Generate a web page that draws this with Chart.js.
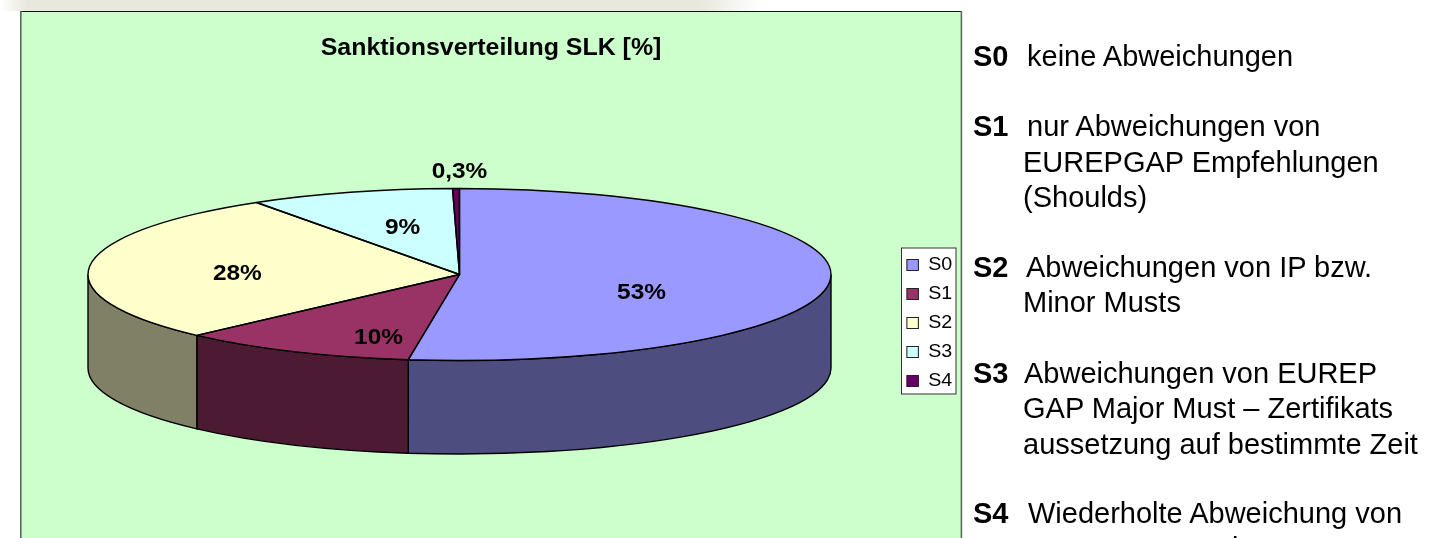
<!DOCTYPE html>
<html lang="de">
<head>
<meta charset="utf-8">
<title>Sanktionsverteilung SLK</title>
<script src="https://cdn.jsdelivr.net/npm/chart.js@4"></script>
<style>
  html, body { margin: 0; padding: 0; background: #fff; width: 1429px; height: 538px; overflow: hidden; }
  #c { position: absolute; left: 0; top: 0; display: block; }
  .note { position: absolute; white-space: pre; font: 29px/30px "Liberation Sans", Arial, sans-serif; color: #000; }
  .note b { font-weight: bold; }
</style>
</head>
<body>
<canvas id="c" width="1429" height="538"></canvas>
<script>
// ---- data ----
const categories = ['S0', 'S1', 'S2', 'S3', 'S4'];
const values = [52.2, 10.3, 28.3, 8.9, 0.3];
const valueLabels = ['53%', '10%', '28%', '9%', '0,3%'];
const sliceColors = ['#9999FF', '#993366', '#FFFFCC', '#CCFFFF', '#660066'];
const chartTitle = 'Sanktionsverteilung SLK [%]';
const noteKeys = ['S0', 'S1', '', '', 'S2', '', 'S3', '', '', 'S4', ''];
const noteTexts = [
  'keine Abweichungen',
  'nur Abweichungen von',
  'EUREPGAP Empfehlungen',
  '(Shoulds)',
  'Abweichungen von IP bzw.',
  'Minor Musts',
  'Abweichungen von EUREP',
  'GAP Major Must – Zertifikats',
  'aussetzung auf bestimmte Zeit',
  'Wiederholte Abweichung von',
  'EUREPGAP Major Musts'
];

// ---- layout and style ----
const notePos = [[1027,66],[1027,136],[1023,172],[1023,207],[1026,277],[1023,312],[1024,383],[1023,418],[1023,454],[1028,523],[1023,558]];
const STRETCH = 1.07;                      // the source picture is slightly wider than tall
const PIE = { cx: 459.5, cy: 274.5, rx: 371.5, ry: 86, depth: 93.5 };
const FRAME = { l: 20, t: 11, r: 962, b: 538 };
const LEGEND_BOX = { x: 901.5, y: 248, w: 54.5, h: 146 };
const labelAnchor = [[.49,.215],[-.218,.74],[-.598,-.005],[-.153,-.54],[0,-1.19]];

function darken(hex) {
  const n = parseInt(hex.slice(1), 16);
  const f = v => Math.round(v * 0.5);
  return `rgb(${f(n >> 16 & 255)},${f(n >> 8 & 255)},${f(n & 255)})`;
}

const pie3d = {
  id: 'pie3d',
  beforeDraw(chart) {
    const ctx = chart.ctx;
    // faded banner at the top of the slide
    const g = ctx.createLinearGradient(0, 0, 760, 0);
    g.addColorStop(0, '#ffffff'); g.addColorStop(0.035, '#E8E8DE');
    g.addColorStop(0.92, '#E8E8DE'); g.addColorStop(1, '#ffffff');
    ctx.fillStyle = g; ctx.fillRect(0, 0, 760, FRAME.t);
    // plot frame
    ctx.fillStyle = '#CCFFCC';
    ctx.fillRect(FRAME.l, FRAME.t, FRAME.r - FRAME.l, FRAME.b - FRAME.t);
    ctx.fillStyle = '#111'; ctx.fillRect(FRAME.l, FRAME.t, FRAME.r - FRAME.l, 1);
    ctx.fillStyle = '#5d6b5d';
    ctx.fillRect(FRAME.l, FRAME.t, 1.6, FRAME.b - FRAME.t);
    ctx.fillRect(FRAME.r - 1.4, FRAME.t, 1.6, FRAME.b - FRAME.t);
    // legend box
    ctx.fillStyle = '#fff'; ctx.fillRect(LEGEND_BOX.x, LEGEND_BOX.y, LEGEND_BOX.w, LEGEND_BOX.h);
    ctx.strokeStyle = '#333'; ctx.lineWidth = 1;
    ctx.strokeRect(LEGEND_BOX.x, LEGEND_BOX.y, LEGEND_BOX.w, LEGEND_BOX.h);
    // title and legend layers are drawn stretched, like the source image
    ctx.save();
    ctx.scale(STRETCH, 1);
  },
  beforeDatasetsDraw(chart) {
    const ctx = chart.ctx;
    ctx.restore();
    const arcs = chart.getDatasetMeta(0).data;
    // side walls: the visible part of each slice's rim
    ctx.lineWidth = 1.4; ctx.strokeStyle = '#000';
    arcs.forEach((arc, i) => {
      const a0 = Math.max(arc.startAngle, 0), a1 = Math.min(arc.endAngle, Math.PI);
      if (a1 <= a0) return;
      ctx.beginPath();
      ctx.ellipse(PIE.cx, PIE.cy, PIE.rx, PIE.ry, 0, a0, a1);
      ctx.ellipse(PIE.cx, PIE.cy + PIE.depth, PIE.rx, PIE.ry, 0, a1, a0, true);
      ctx.closePath();
      ctx.fillStyle = darken(sliceColors[i]);
      ctx.fill(); ctx.stroke();
    });
    // top face: library arcs projected on the ellipse
    const a = arcs[0];
    ctx.save();
    ctx.translate(PIE.cx, PIE.cy);
    ctx.scale(PIE.rx / a.outerRadius, PIE.ry / a.outerRadius);
    ctx.translate(-a.x, -a.y);
  },
  afterDatasetsDraw(chart) {
    const ctx = chart.ctx;
    ctx.restore();
    const arcs = chart.getDatasetMeta(0).data;
    ctx.lineWidth = 1.4; ctx.strokeStyle = '#000'; ctx.lineJoin = 'round';
    arcs.forEach(arc => {
      ctx.beginPath();
      ctx.moveTo(PIE.cx, PIE.cy);
      ctx.ellipse(PIE.cx, PIE.cy, PIE.rx, PIE.ry, 0, arc.startAngle, arc.endAngle);
      ctx.closePath();
      ctx.stroke();
    });
    // value labels
    ctx.fillStyle = '#000';
    ctx.font = 'bold 22.8px "Liberation Sans", Arial, sans-serif';
    ctx.textAlign = 'center'; ctx.textBaseline = 'middle';
    valueLabels.forEach((t, i) => {
      ctx.save();
      ctx.translate(PIE.cx + labelAnchor[i][0] * PIE.rx, PIE.cy + labelAnchor[i][1] * PIE.ry);
      ctx.scale(STRETCH, 1);
      ctx.fillText(t, 0, 0);
      ctx.restore();
    });
  }
};

new Chart(document.getElementById('c'), {
  type: 'pie',
  data: {
    labels: categories,
    datasets: [{ data: values, backgroundColor: sliceColors, borderWidth: 0, clip: false }]
  },
  plugins: [pie3d],
  options: {
    responsive: false,
    animation: false,
    layout: { padding: { left: 17.8, right: 529, top: 35, bottom: 0 } },
    plugins: {
      tooltip: { enabled: false },
      title: {
        display: true, text: chartTitle, color: '#000',
        font: { family: '"Liberation Sans", Arial, sans-serif', size: 23.3, weight: 'bold' },
        padding: { top: 0, bottom: 45 }
      },
      legend: {
        display: true, position: 'right', fullSize: false,
        labels: {
          color: '#000', boxWidth: 10.75, boxHeight: 11, padding: 10.6,
          font: { family: '"Liberation Sans", Arial, sans-serif', size: 18.4 },
          generateLabels(chart) {
            return Chart.overrides.pie.plugins.legend.labels.generateLabels(chart)
              .map(it => ({ ...it, strokeStyle: '#222', lineWidth: 1 }));
          }
        }
      }
    }
  }
});

// explanation column, real text
noteTexts.forEach((t, i) => {
  const el = document.createElement('div');
  el.className = 'note';
  el.style.left = notePos[i][0] + 'px';
  el.style.top = (notePos[i][1] - 25) + 'px';
  el.textContent = t;
  document.body.appendChild(el);
  if (noteKeys[i]) {
    const k = document.createElement('div');
    k.className = 'note';
    k.style.left = '973px';
    k.style.top = (notePos[i][1] - 25) + 'px';
    k.innerHTML = '<b>' + noteKeys[i] + '</b>';
    document.body.appendChild(k);
  }
});
</script>
</body>
</html>
